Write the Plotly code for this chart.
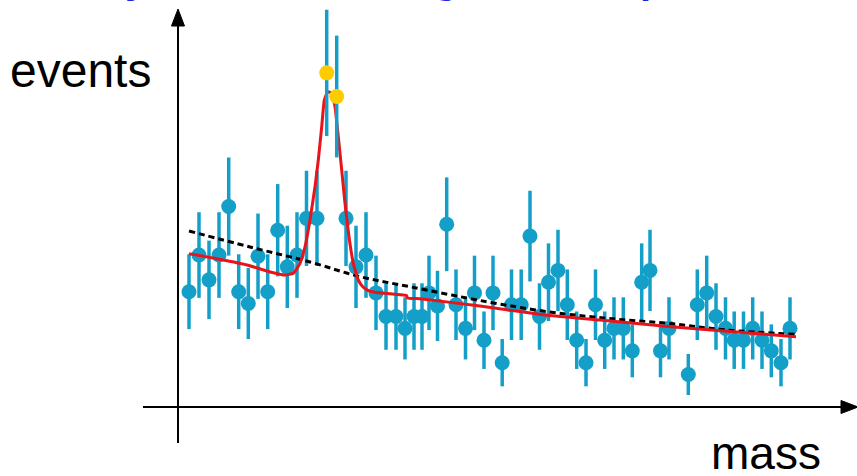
import numpy as np
import plotly.graph_objects as go

# ---- data (mass in arbitrary units, events in counts) ----
mass = [189, 199, 209, 219, 228.7, 238.7, 248.3, 258, 267.7, 277.7, 287.3, 297,
        306.5, 317, 326.7, 336.7, 346, 356, 366, 376, 386, 396, 405, 414, 422,
        429, 437.5, 446.7, 456, 465.5, 474.5, 484, 493, 502.2, 511.5, 521.2, 530,
        539.5, 548.5, 558, 567.3, 576.7, 586, 595.5, 604.7, 614, 623.3, 632.3,
        641.7, 650, 660.5, 669, 688.3, 697.3, 706.7, 716, 725.5, 734.2, 743.5,
        752.7, 762, 771.3, 781, 790]
events = [10.0, 13.1, 11.0, 13.1, 17.2, 10.0, 9.0, 13.0, 10.0, 15.2, 12.1, 13.1,
          16.2, 16.2, 28.5, 26.5, 16.2, 12.1, 13.1, 9.9, 7.9, 7.9, 6.9, 7.9, 7.9,
          9.9, 8.8, 15.7, 8.9, 6.9, 9.9, 5.9, 9.9, 4.0, 8.9, 8.9, 14.7,
          7.9, 10.8, 11.8, 8.9, 5.9, 4.0, 8.9, 5.9, 6.9, 6.9, 5.0,
          10.8, 11.8, 5.0, 6.9, 3.0, 8.9, 9.9, 7.9, 6.9, 5.9, 5.9,
          6.9, 5.9, 5.0, 4.0, 6.9]
signal_index = [14, 15]  # the two highlighted bins

# fit (signal + background)
fit_mass = [189, 213, 247, 270, 285, 293.3, 300, 305, 310, 315, 318.3, 321.7,
            324.3, 327.7, 331.7, 335, 338.3, 341.7, 345, 349, 353.3, 358.3,
            363, 368, 375, 385, 395, 406.5, 407.5, 420, 480, 545, 600, 668, 730, 796]
fit_events = [13.2, 12.85, 12.26, 11.67, 11.41, 11.56, 12.40, 13.80, 16.06,
              18.88, 21.13, 23.95, 26.20, 26.91, 26.77, 25.64, 23.10, 20.29,
              17.47, 14.65, 12.40, 10.99, 10.40, 10.12, 9.95, 9.86, 9.78, 9.68,
              9.47, 9.40, 8.79, 8.03, 7.61, 7.06, 6.64, 6.20]

# background only (dashed)
bkg_mass = [189, 250, 310, 360, 410, 487, 548, 607, 668, 727, 795]
bkg_events = [15.13, 13.78, 12.51, 11.27, 10.42, 9.15, 8.31, 7.75, 7.33, 6.76, 6.40]

TEAL = "#139fc7"
GOLD = "#ffcc00"
RED = "#e8141c"

m = np.array(mass)
n = np.array(events)
err = np.sqrt(n)
sig = np.zeros(len(m), dtype=bool)
sig[signal_index] = True

fig = go.Figure()
fig.add_trace(go.Scatter(
    x=m[~sig], y=n[~sig], mode="markers",
    marker=dict(color=TEAL, size=15),
    error_y=dict(type="data", array=err[~sig], thickness=3.5, width=0, color=TEAL),
    showlegend=False, hoverinfo="skip"))
fig.add_trace(go.Scatter(
    x=bkg_mass, y=bkg_events, mode="lines", line_shape="spline",
    line=dict(color="black", width=3, dash="6px,4px"),
    showlegend=False, hoverinfo="skip"))
fig.add_trace(go.Scatter(
    x=fit_mass, y=fit_events, mode="lines", line_shape="spline",
    line=dict(color=RED, width=3, smoothing=0.4),
    showlegend=False, hoverinfo="skip"))
fig.add_trace(go.Scatter(
    x=m[sig], y=n[sig], mode="markers",
    marker=dict(color=GOLD, size=15),
    error_y=dict(type="data", array=err[sig], thickness=3.5, width=0, color=TEAL),
    showlegend=False, hoverinfo="skip"))

W, H = 857, 476
def px(x):
    return x / W
def py(y):
    return 1 - y / H

shapes = [
    # vertical axis
    dict(type="line", xref="paper", yref="paper", x0=px(178), x1=px(178),
         y0=py(443), y1=py(22), line=dict(color="black", width=2)),
    dict(type="path", xref="paper", yref="paper",
         path=f"M {px(171.5)} {py(26)} L {px(178)} {py(9)} L {px(184.5)} {py(26)} Z",
         fillcolor="black", line=dict(color="black", width=1)),
    # horizontal axis
    dict(type="line", xref="paper", yref="paper", x0=px(143), x1=px(845),
         y0=py(407), y1=py(407), line=dict(color="black", width=2)),
    dict(type="path", xref="paper", yref="paper",
         path=f"M {px(841)} {py(400.5)} L {px(858)} {py(407)} L {px(841)} {py(413.5)} Z",
         fillcolor="black", line=dict(color="black", width=1)),
]

annotations = [
    dict(text="events", xref="paper", yref="paper", x=px(8), y=py(70),
         xanchor="left", yanchor="middle", showarrow=False,
         font=dict(family="Liberation Sans, Arial", size=48, color="black")),
    dict(text="mass", xref="paper", yref="paper", x=px(709), y=py(453),
         xanchor="left", yanchor="middle", showarrow=False,
         font=dict(family="Liberation Sans, Arial", size=46, color="black")),
]
# fragments of the cut-off blue title at the very top
for ch, cx in [("y", 136), ("g", 446), ("p", 652)]:
    annotations.append(dict(
        text=f"<b>{ch}</b>", xref="paper", yref="paper", x=px(cx), y=py(-20.5),
        xanchor="center", yanchor="middle", showarrow=False,
        font=dict(family="Liberation Sans, Arial", size=40, color="#2222dd")))

fig.update_layout(
    width=W, height=H,
    margin=dict(l=0, r=0, t=0, b=0),
    paper_bgcolor="white", plot_bgcolor="white",
    xaxis=dict(range=[0, W], visible=False, fixedrange=True),
    yaxis=dict(range=[-5.58, 34.66], visible=False, fixedrange=True),
    shapes=shapes, annotations=annotations,
)

fig.write_html(
    "out.html",
    config={"displayModeBar": False},
    post_script="document.body.style.margin='0';document.body.style.overflow='hidden';",
)
